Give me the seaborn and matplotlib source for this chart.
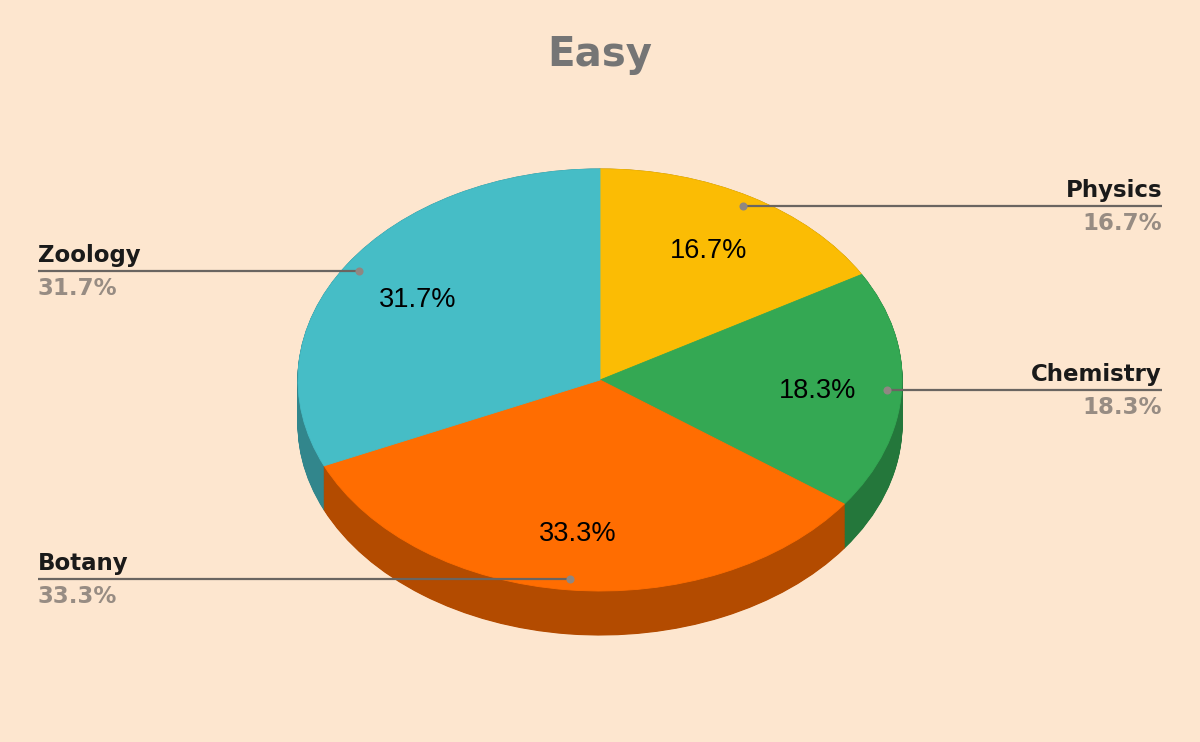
import numpy as np
import matplotlib
matplotlib.use("Agg")
import matplotlib.pyplot as plt
import seaborn as sns

# ---- data ----
title = "Easy"
categories = ["Physics", "Chemistry", "Botany", "Zoology"]
counts = [10, 11, 20, 19]
top_colors = ["#fbbc04", "#34a853", "#ff6d01", "#46bdc6"]
side_colors = ["#b08403", "#24773b", "#b34b00", "#32868c"]

sns.set_theme(style="white")
BG = "#fde6cf"
plt.rcParams["font.family"] = ["DejaVu Sans"]

W, H, DPI = 1200, 742, 100
fig = plt.figure(figsize=(W / DPI, H / DPI), dpi=DPI, facecolor=BG)
ax = fig.add_axes([0, 0, 1, 1])
ax.set_facecolor(BG)

# geometry (pixels -> data): centre (600,380), rx 302, ry 211, depth 44
cx, cy, rx, ry, depth_px = 600, 380, 302, 211, 44
depth = depth_px / ry

# side walls: stacked darker pies
for off in np.linspace(-depth, 0, 60):
    wedges, _ = ax.pie(counts, colors=side_colors, startangle=90, counterclock=False,
                       center=(0, off), radius=1, wedgeprops=dict(linewidth=0))
    for w in wedges:
        w.set_edgecolor(w.get_facecolor())
        w.set_linewidth(0.8)

# top face
wedges, _, autotexts = ax.pie(counts, colors=top_colors, startangle=90, counterclock=False,
                              center=(0, 0), radius=1, autopct="%1.1f%%", pctdistance=0.72,
                              wedgeprops=dict(linewidth=0),
                              textprops=dict(fontsize=19.5, color="black",
                                             family=["Liberation Sans", "DejaVu Sans"]))
for w in wedges:
    w.set_edgecolor(w.get_facecolor())
    w.set_linewidth(0.6)
for t in autotexts:
    t.set_va("center_baseline")

ax.set_aspect("auto")
ax.set_xlim(-cx / rx, (W - cx) / rx)
ax.set_ylim((cy - H) / ry, cy / ry)
ax.axis("off")

# outer labels with leader lines
total = sum(counts)
fracs = np.array(counts) / total
mids = np.cumsum(fracs) - fracs / 2
left_x = (38 - cx) / rx
right_x = (1162 - cx) / rx
for name, f, m in zip(categories, fracs, mids):
    ang = np.deg2rad(90 - 360 * m)
    px, py = 0.95 * np.cos(ang), 0.95 * np.sin(ang)
    ex = right_x if px > 0 else left_x
    ha = "right" if px > 0 else "left"
    ax.plot([px, ex], [py, py], color="#6a6561", lw=1.6, zorder=5, solid_capstyle="butt")
    ax.scatter([px], [py], s=34, color="#8f8782", zorder=6, linewidths=0)
    ax.annotate(name, xy=(ex, py), xytext=(0, 6.5), textcoords="offset points",
                ha=ha, va="baseline", fontsize=16.5, fontweight="bold", color="#1a1a1a")
    ax.annotate(f"{f * 100:.1f}%", xy=(ex, py), xytext=(0, -4.2), textcoords="offset points",
                ha=ha, va="top", fontsize=16.5, fontweight="bold", color="#978c83")

fig.text(0.5, 1 - 55 / H, title, ha="center", va="center", fontsize=29,
         fontweight="bold", color="#757575")

fig.savefig("out.png", dpi=DPI, facecolor=BG)
